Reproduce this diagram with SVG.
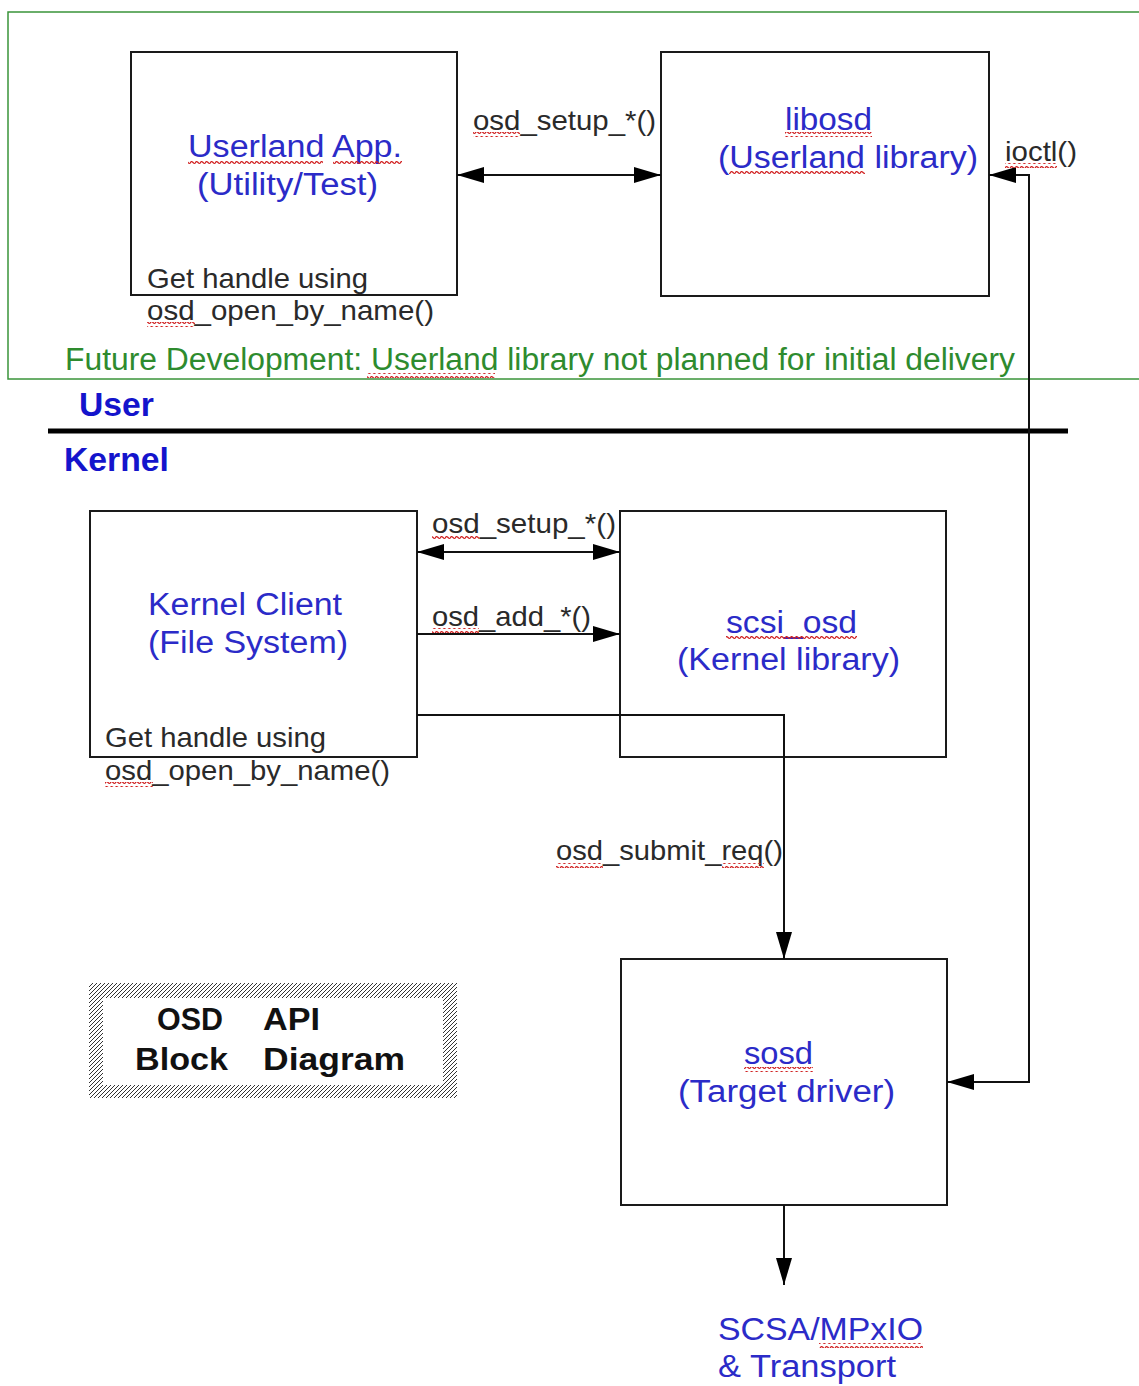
<svg xmlns="http://www.w3.org/2000/svg" width="1139" height="1386" viewBox="0 0 1139 1386">
<style>
text{font-family:"Liberation Sans",Arial,sans-serif}
.b{fill:#2b2bc8;font-size:31px}
.k{fill:#2a2a2a;font-size:28px}
.g{fill:#2e8b2e;font-size:31px}
.h{fill:#1414cc;font-size:33px;font-weight:bold}
.t{fill:#111;font-size:31px;font-weight:bold}
.box{fill:none;stroke:#1a1a1a;stroke-width:2}
.c{fill:none;stroke:#111;stroke-width:2}
.sq{fill:url(#wave)}
</style>
<defs>
<marker id="ah" markerUnits="userSpaceOnUse" markerWidth="28" markerHeight="18" refX="27" refY="8" orient="auto-start-reverse">
<path d="M0,0 L27,8 L0,16 Z" fill="#000"/>
</marker>
<pattern id="wave" width="5" height="5" patternUnits="userSpaceOnUse">
<path d="M0,3.5 Q1.25,0.5 2.5,2 T5,3.5" fill="none" stroke="#d02020" stroke-width="1.2"/>
</pattern>
<pattern id="hatch" width="4" height="4" patternUnits="userSpaceOnUse">
<path d="M-1,1 L1,-1 M0,4 L4,0 M3,5 L5,3" stroke="#333" stroke-width="1"/>
</pattern>
</defs>
<rect width="1139" height="1386" fill="#fff"/>

<g id="future-area">
<rect x="8" y="12" width="1140" height="367" fill="none" stroke="#3a943a" stroke-width="1.5"/>
<text class="g" x="65" y="370" textLength="950" lengthAdjust="spacingAndGlyphs">Future Development: Userland library not planned for initial delivery</text>
<rect class="sq" x="367" y="373" width="128" height="5"/>
</g>

<g id="separator">
<line x1="48" y1="431" x2="1068" y2="431" stroke="#000" stroke-width="5"/>
<text class="h" x="79" y="416" textLength="75" lengthAdjust="spacingAndGlyphs">User</text>
<text class="h" x="64" y="471" textLength="105" lengthAdjust="spacingAndGlyphs">Kernel</text>
</g>

<g id="userland-app">
<rect class="box" x="131" y="52" width="326" height="243"/>
<text class="b" x="188" y="157" textLength="214" lengthAdjust="spacingAndGlyphs">Userland App.</text>
<text class="b" x="197" y="195" textLength="181" lengthAdjust="spacingAndGlyphs">(Utility/Test)</text>
<rect class="sq" x="188" y="160" width="135" height="5"/>
<rect class="sq" x="333" y="160" width="69" height="5"/>
<text class="k" x="147" y="288" textLength="221" lengthAdjust="spacingAndGlyphs">Get handle using</text>
<text class="k" x="147" y="320" textLength="287" lengthAdjust="spacingAndGlyphs">osd_open_by_name()</text>
<rect class="sq" x="147" y="322" width="48" height="5"/>
</g>

<g id="libosd">
<rect class="box" x="661" y="52" width="328" height="244"/>
<text class="b" x="785" y="130" textLength="87" lengthAdjust="spacingAndGlyphs">libosd</text>
<rect class="sq" x="785" y="132" width="87" height="5"/>
<text class="b" x="718" y="168" textLength="260" lengthAdjust="spacingAndGlyphs">(Userland library)</text>
<rect class="sq" x="729" y="171" width="136" height="5"/>
</g>

<g id="kernel-client">
<rect class="box" x="90" y="511" width="327" height="246"/>
<text class="b" x="148" y="615" textLength="194" lengthAdjust="spacingAndGlyphs">Kernel Client</text>
<text class="b" x="148" y="653" textLength="200" lengthAdjust="spacingAndGlyphs">(File System)</text>
<text class="k" x="105" y="747" textLength="221" lengthAdjust="spacingAndGlyphs">Get handle using</text>
<text class="k" x="105" y="780" textLength="285" lengthAdjust="spacingAndGlyphs">osd_open_by_name()</text>
<rect class="sq" x="105" y="782" width="48" height="5"/>
</g>

<g id="scsi-osd">
<rect class="box" x="620" y="511" width="326" height="246"/>
<text class="b" x="726" y="633" textLength="131" lengthAdjust="spacingAndGlyphs">scsi_osd</text>
<rect class="sq" x="726" y="636" width="131" height="5"/>
<text class="b" x="677" y="670" textLength="223" lengthAdjust="spacingAndGlyphs">(Kernel library)</text>
</g>

<g id="sosd">
<rect class="box" x="621" y="959" width="326" height="246"/>
<text class="b" x="744" y="1064" textLength="69" lengthAdjust="spacingAndGlyphs">sosd</text>
<rect class="sq" x="744" y="1067" width="69" height="5"/>
<text class="b" x="678" y="1102" textLength="217" lengthAdjust="spacingAndGlyphs">(Target driver)</text>
</g>

<g id="transport">
<text class="b" x="718" y="1340" textLength="205" lengthAdjust="spacingAndGlyphs">SCSA/MPxIO</text>
<rect class="sq" x="819" y="1343" width="104" height="5"/>
<text class="b" x="718" y="1377" textLength="178" lengthAdjust="spacingAndGlyphs">&amp; Transport</text>
</g>

<g id="title">
<rect x="89" y="983" width="368" height="115" fill="url(#hatch)"/>
<rect x="103" y="998" width="340" height="87" fill="#fff"/>
<text class="t" x="157" y="1030" textLength="66" lengthAdjust="spacingAndGlyphs">OSD</text>
<text class="t" x="263" y="1030" textLength="57" lengthAdjust="spacingAndGlyphs">API</text>
<text class="t" x="135" y="1070" textLength="93" lengthAdjust="spacingAndGlyphs">Block</text>
<text class="t" x="263" y="1070" textLength="142" lengthAdjust="spacingAndGlyphs">Diagram</text>
</g>

<g id="connectors">
<line class="c" x1="457" y1="175" x2="661" y2="175" marker-start="url(#ah)" marker-end="url(#ah)"/>
<path class="c" d="M989,175 H1029 V1082 H947" marker-start="url(#ah)" marker-end="url(#ah)"/>
<line class="c" x1="417" y1="552" x2="620" y2="552" marker-start="url(#ah)" marker-end="url(#ah)"/>
<line class="c" x1="417" y1="634" x2="620" y2="634" marker-end="url(#ah)"/>
<path class="c" d="M417,715 H784 V959" marker-end="url(#ah)"/>
<line class="c" x1="784" y1="1205" x2="784" y2="1285" marker-end="url(#ah)"/>
</g>

<g id="connector-labels">
<text class="k" x="473" y="130" textLength="183" lengthAdjust="spacingAndGlyphs">osd_setup_*()</text>
<rect class="sq" x="473" y="132" width="47" height="5"/>
<text class="k" x="1005" y="161" textLength="72" lengthAdjust="spacingAndGlyphs">ioctl()</text>
<rect class="sq" x="1005" y="163" width="52" height="5"/>
<text class="k" x="432" y="533" textLength="184" lengthAdjust="spacingAndGlyphs">osd_setup_*()</text>
<rect class="sq" x="432" y="535" width="47" height="5"/>
<text class="k" x="432" y="626" textLength="159" lengthAdjust="spacingAndGlyphs">osd_add_*()</text>
<rect class="sq" x="432" y="628" width="47" height="5"/>
<text class="k" x="556" y="860" textLength="227" lengthAdjust="spacingAndGlyphs">osd_submit_req()</text>
<rect class="sq" x="556" y="863" width="47" height="5"/>
<rect class="sq" x="722" y="863" width="42" height="5"/>
</g>
</svg>
